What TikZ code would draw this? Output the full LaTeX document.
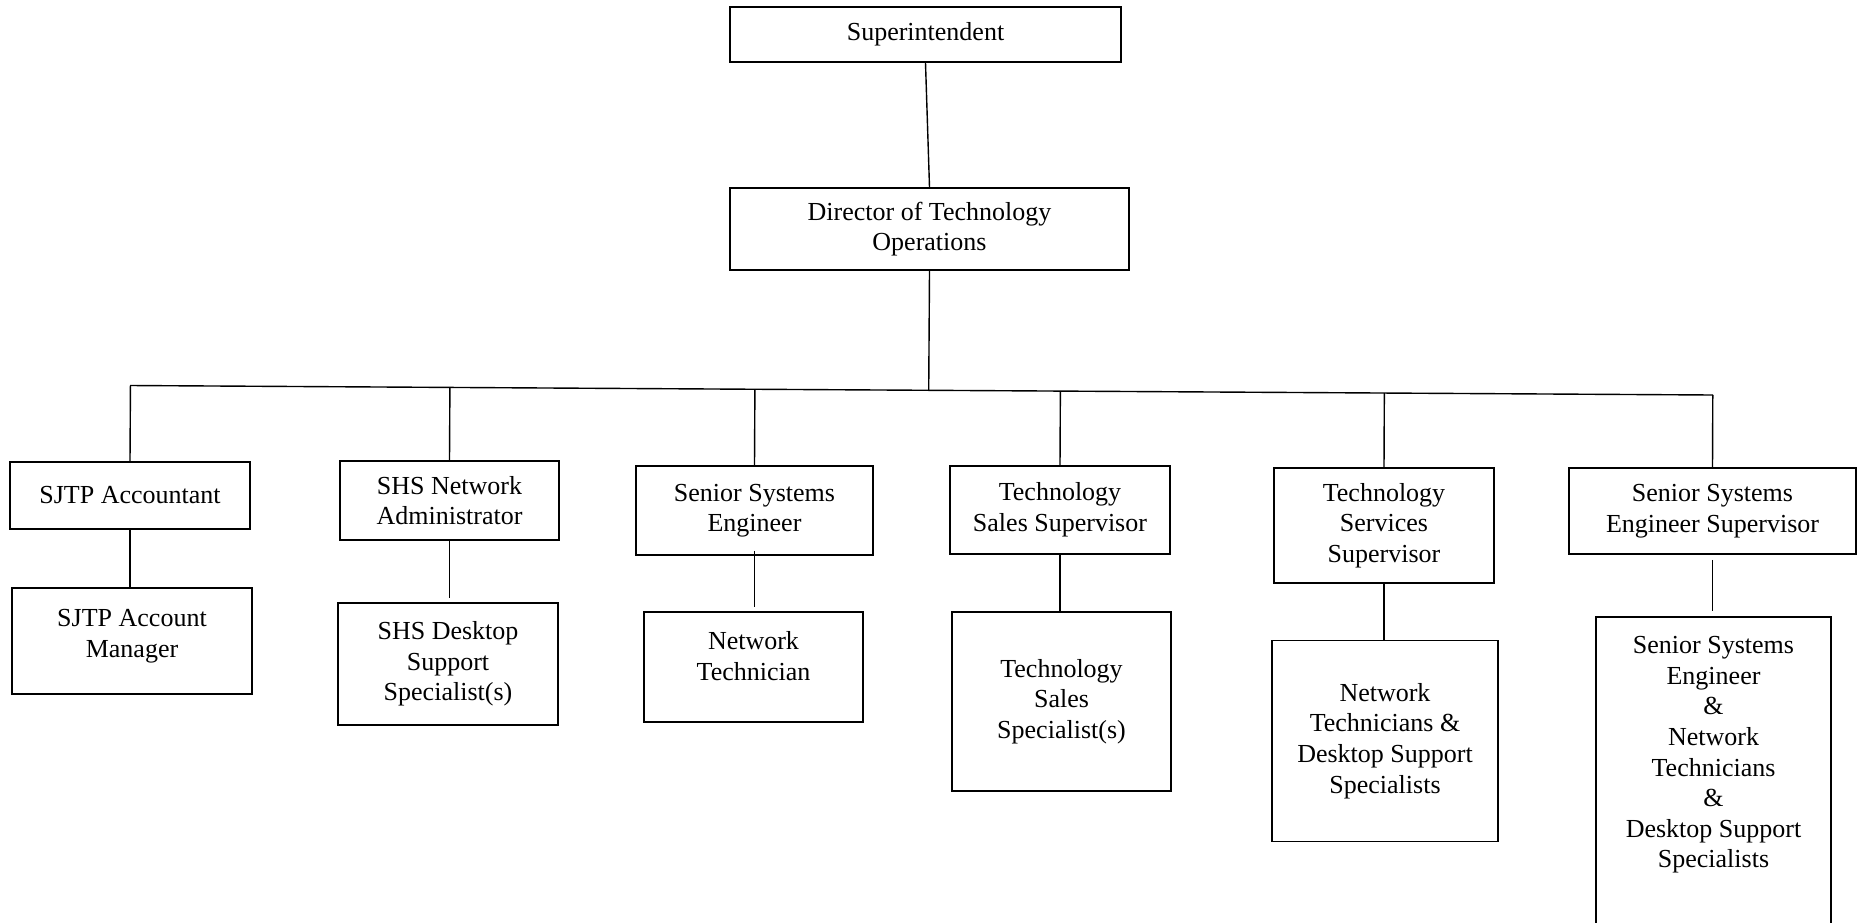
\documentclass[tikz,border=0pt]{standalone}
\usepackage{fontspec}
\setmainfont{Liberation Serif}
\usepackage{tikz}
\usetikzlibrary{calc}
\tikzset{orgbox/.style={draw,line width=0.85pt,align=center,inner sep=0pt,
  font=\fontsize{13}{15.3}\selectfont},
  orgtext/.style={align=center,inner sep=0pt,font=\fontsize{13}{15.3}\selectfont},
  orgline/.style={line width=0.7pt}}

\begin{document}
\begin{tikzpicture}[x=0.5pt,y=-0.5pt]
  \clip (0,0) rectangle (1864,922);
  \fill[white] (0,0) rectangle (1864,922);

  \node[orgbox,minimum width=195.5pt,minimum height=27.5pt] (sup) at (925.5,34.5) {Superintendent};
  \node[orgbox,minimum width=199.5pt,minimum height=41pt] (dir) at (929.5,229) {Director of Technology\\Operations};

  \node[orgbox,minimum width=120pt,minimum height=33.5pt] (acc) at (130,495.5) {SJTP Accountant};
  \node[orgbox,minimum width=109.5pt,minimum height=39.5pt] (netadm) at (449.5,500.5) {SHS Network\\Administrator};
  \node[orgbox,minimum width=118.5pt,minimum height=44.5pt] (sse) at (754.5,510.5) {Senior Systems\\Engineer};
  \node[orgbox,minimum width=110pt,minimum height=44pt] (salessup) at (1060,510) {Technology\\Sales Supervisor};
  \node[orgbox,minimum width=110pt,minimum height=57.5pt] (servsup) at (1384,525.5) {Technology\\Services\\Supervisor};
  \node[orgbox,minimum width=143.5pt,minimum height=43pt] (ssesup) at (1712.5,511) {Senior Systems\\Engineer Supervisor};

  \node[orgbox,minimum width=120pt,minimum height=53pt] (accmgr) at (132,641) {};
  \node[orgtext] (accmgrtxt) at (132,636) {SJTP Account\\Manager};
  \node[orgbox,minimum width=110pt,minimum height=61pt] (desktop) at (448,664) {SHS Desktop\\Support\\Specialist(s)};
  \node[orgbox,minimum width=109.5pt,minimum height=55pt] (nettech) at (753.5,667) {};
  \node[orgtext] (nettechtxt) at (753.5,656) {Network\\Technician};
  \node[orgbox,minimum width=109.5pt,minimum height=89.5pt] (salesspec) at (1061.5,701.5) {Technology\\Sales\\Specialist(s)};
  \node[orgbox,minimum width=113pt,minimum height=100.5pt] (nettechs) at (1385,741) {Network\\Technicians \&\\Desktop Support\\Specialists};
  \node[orgbox,minimum width=117.5pt,minimum height=161.5pt] (ssenet) at (1713.5,778.5) {};
  \node[orgtext] (ssenettxt) at (1713.5,755) {Senior Systems\\Engineer\\\&\\Network\\Technicians\\\&\\Desktop Support\\Specialists};

  \coordinate (busL) at (130,385.5);
  \coordinate (busR) at (1713,395);
  \draw[orgline] (sup.south) -- (dir.north);
  \draw[orgline] (dir.south) -- ($(busL)!(dir.south)!(busR)$);
  \draw[orgline] (busL) -- (busR);
  \foreach \n in {acc,netadm,sse,salessup,servsup,ssesup}
    \draw[orgline] (\n.north) -- ($(busL)!(\n.north)!(busR)$);

  \draw[orgline] (acc.south) -- (acc.south |- accmgr.north);
  \draw[orgline,shorten >=2pt] (netadm.south) -- (netadm.south |- desktop.north);
  \draw[orgline,shorten <=-2.5pt,shorten >=2pt] (sse.south) -- (sse.south |- nettech.north);
  \draw[orgline] (salessup.south) -- (salessup.south |- salesspec.north);
  \draw[orgline] (servsup.south) -- (servsup.south |- nettechs.north);
  \draw[orgline,shorten <=2.5pt,shorten >=2.5pt] (ssesup.south) -- (ssesup.south |- ssenet.north);
\end{tikzpicture}
\end{document}
